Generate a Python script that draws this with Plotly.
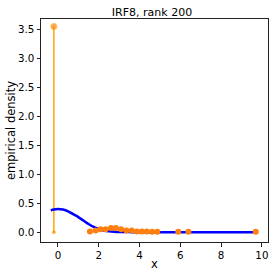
import plotly.graph_objects as go

# fitted density curve
curve_x = [-0.35, -0.2, 0.0, 0.25, 0.5, 0.75, 1.0, 1.25, 1.5, 1.75, 2.0, 2.25, 2.5, 2.75, 3.0, 3.5, 4.0, 5.0, 6.0, 7.0, 8.0, 9.0, 9.8]
curve_y = [0.375, 0.39, 0.40, 0.39, 0.36, 0.31, 0.26, 0.20, 0.14, 0.09, 0.055, 0.03, 0.016, 0.008, 0.004, 0.001, 0.0, 0.0, 0.0, 0.0, 0.0, 0.0, 0.0]

# empirical density points
pts_x = [1.57, 1.85, 2.09, 2.34, 2.6, 2.84, 3.1, 3.36, 3.62, 3.87, 4.12, 4.36, 4.62, 4.87, 5.9, 6.4, 9.7]
pts_y = [0.01, 0.03, 0.05, 0.05, 0.07, 0.07, 0.05, 0.03, 0.03, 0.01, 0.01, 0.01, 0.005, 0.005, 0.005, 0.005, 0.005]

# spike (point mass)
spike_x = [-0.2, -0.2]
spike_y = [0.0, 3.55]

title = "IRF8, rank 200"
x_label = "x"
y_label = "empirical density"
x_ticks = [0, 2, 4, 6, 8, 10]
y_ticks = [0.0, 0.5, 1.0, 1.5, 2.0, 2.5, 3.0, 3.5]

W, H = 277, 277
ML, MR, MT, MB = 41, 9, 19, 35
PW, PH = W - ML - MR, H - MT - MB

fig = go.Figure()
fig.add_trace(go.Scatter(x=spike_x, y=spike_y, mode="lines+markers",
                         line=dict(color="#FFA500", width=1.5),
                         marker=dict(color="#ff7f0e", size=[3, 6]),
                         showlegend=False))
fig.add_trace(go.Scatter(x=curve_x, y=curve_y, mode="lines", line=dict(color="#0000FF", width=2.5, shape="spline"),
                         showlegend=False))
fig.add_trace(go.Scatter(x=pts_x, y=pts_y, mode="markers",
                         marker=dict(color="#ff7f0e", size=6), showlegend=False))

axis_common = dict(showgrid=False, zeroline=False, showline=True, linecolor="#222222", linewidth=1,
                   mirror=True, ticks="outside", ticklen=3.5, tickwidth=1, tickcolor="#222222",
                   ticklabeloverflow="allow", automargin=False,
                   tickfont=dict(family="DejaVu Sans", size=10.3, color="black"))

label_font = dict(family="DejaVu Sans", size=11.5, color="black")

fig.update_layout(
    width=W, height=H,
    margin=dict(l=ML, r=MR, t=MT, b=MB),
    plot_bgcolor="white", paper_bgcolor="white",
    title=dict(text=title, x=152 / W, xanchor="center", y=1 - 12.5 / H, yanchor="middle",
               font=dict(family="DejaVu Sans", size=11, color="black")),
    xaxis=dict(range=[-0.83, 10.3], tickvals=x_ticks, ticktext=[str(v) for v in x_ticks], **axis_common),
    yaxis=dict(range=[-0.17, 3.68], tickvals=y_ticks, ticktext=[f"{v:.1f}" for v in y_ticks],
               title=dict(text=y_label, font=label_font, standoff=0), **axis_common),
    annotations=[
        dict(text=x_label, xref="paper", yref="paper", x=0.5, y=-(264 - (H - MB)) / PH,
             xanchor="center", yanchor="middle", showarrow=False, font=label_font),
    ],
)

fig.write_html("out.html", config={"displayModeBar": False},
               post_script="document.body.style.margin='0';")
